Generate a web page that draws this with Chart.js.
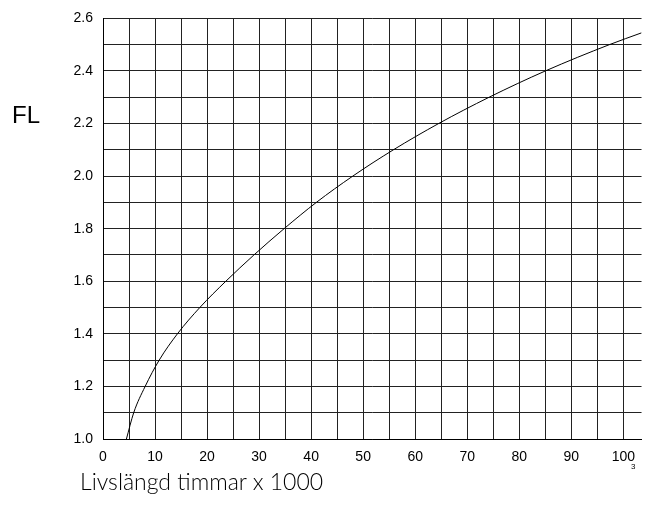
<!DOCTYPE html>
<html>
<head>
<meta charset="utf-8">
<script src="https://cdn.jsdelivr.net/npm/chart.js@4/dist/chart.umd.min.js"></script>
<style>
  body { margin: 0; background: #fff; }
  #wrap { position: relative; width: 645px; height: 509px; }
  .txt { position: absolute; color: #000; white-space: nowrap; }
  #ylab { left: 12px; top: 101px; font: 24px "Liberation Sans", sans-serif; }
  #xlab { left: 80px; top: 467px; font: 23px "Lato", sans-serif; font-weight: 300; }
  #exp { left: 631px; top: 462px; font: 8px "Liberation Sans", sans-serif; }
</style>
</head>
<body>
<div id="wrap">
  <canvas id="grafico" width="645" height="509"></canvas>
  <div class="txt" id="ylab">FL</div>
  <div class="txt" id="xlab">Livslängd timmar x 1000</div>
  <div class="txt" id="exp">3</div>
</div>
<script>
// Livslängd (x 1000 timmar) och FL, avlästa från kurvan
const livslangd = [4.5, 5.9, 8.1, 10.8, 14.3, 18.6, 23.6, 29.0, 34.8, 41.0, 48.0, 55.8, 64.5, 74.2, 85.0, 97.3, 103.5];
const fl = [1.0, 1.1, 1.2, 1.3, 1.4, 1.5, 1.6, 1.7, 1.8, 1.9, 2.0, 2.1, 2.2, 2.3, 2.4, 2.5, 2.545];

const xMin = 0, xMax = 103.5;
const yMin = 1.0, yMax = 2.6;

const punkter = livslangd.map((x, i) => ({ x: x, y: fl[i] }));

const ctx = document.getElementById("grafico").getContext("2d");
new Chart(ctx, {
    type: "line",
    data: {
        datasets: [{
            data: punkter,
            borderColor: "#000",
            borderWidth: 1,
            pointRadius: 0,
            cubicInterpolationMode: "monotone",
            fill: false
        }]
    },
    options: {
        responsive: false,
        animation: false,
        layout: { padding: { top: 18, right: 0, left: 0, bottom: 0 } },
        plugins: { legend: { display: false }, tooltip: { enabled: false } },
        scales: {
            x: {
                type: "linear",
                min: xMin,
                max: xMax,
                afterFit: (s) => { s.height = 70; },
                grid: { color: "#222", lineWidth: 1, drawTicks: false },
                border: { color: "#000" },
                ticks: {
                    stepSize: 5,
                    includeBounds: false,
                    padding: 10,
                    maxRotation: 0,
                    autoSkip: false,
                    color: "#000",
                    font: { family: "Liberation Sans", size: 14 },
                    callback: (v) => (v % 10 === 0 ? v : "")
                }
            },
            y: {
                min: yMin,
                max: yMax,
                afterFit: (s) => { s.width = 103; },
                grid: { color: "#222", lineWidth: 1, drawTicks: false },
                border: { color: "#000" },
                ticks: {
                    stepSize: 0.1,
                    padding: 10,
                    color: "#000",
                    font: { family: "Liberation Sans", size: 14 },
                    callback: (v) => {
                        const r = Math.round(v * 10);
                        return r % 2 === 0 ? (r / 10).toFixed(1) : "";
                    }
                }
            }
        }
    }
});
</script>
</body>
</html>
